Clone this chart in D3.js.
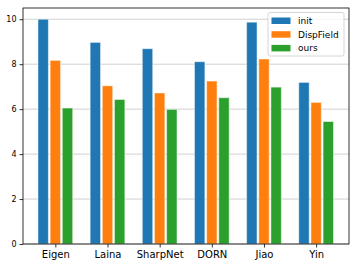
<!DOCTYPE html>
<html>
<head>
<meta charset="utf-8">
<script src="https://cdn.jsdelivr.net/npm/d3@7"></script>
<style>
  body { margin: 0; background: #fff; }
  text { font-family: "DejaVu Sans", sans-serif; }
</style>
</head>
<body>
<svg width="357" height="268"></svg>
<script>
// chart data
var methods = ['Eigen', 'Laina', 'SharpNet', 'DORN', 'Jiao', 'Yin'];
var series = ['init', 'DispField', 'ours'];
var initVals = [10.0, 8.97, 8.69, 8.11, 9.87, 7.19];
var dispVals = [8.17, 7.04, 6.72, 7.25, 8.23, 6.30];
var oursVals = [6.05, 6.43, 5.99, 6.51, 6.98, 5.45];
var yTicks = [0, 2, 4, 6, 8, 10];

var colors = ['#1f77b4', '#ff7f0e', '#2ca02c'];
var allVals = [initVals, dispVals, oursVals];

var plotLeft = 23, plotRight = 349, plotTop = 8, plotBottom = 244;
var barW = 0.2, step = 0.233;

var xScale = d3.scaleLinear()
              .domain([-0.62, 5.63])
              .range([plotLeft, plotRight]);

var yScale = d3.scaleLinear()
              .domain([0, 10.5])
              .range([plotBottom, plotTop]);

var svg = d3.select('svg');

// horizontal grid
svg.append('g')
  .selectAll('line')
  .data(yTicks)
  .enter()
  .append('line')
    .attr('x1', plotLeft)
    .attr('x2', plotRight)
    .attr('y1', d => yScale(d))
    .attr('y2', d => yScale(d))
    .attr('stroke', '#b0b0b0')
    .attr('stroke-opacity', 0.6)
    .attr('stroke-width', 1);

// bars
series.forEach(function(s, k) {
  svg.append('g')
    .selectAll('rect')
    .data(allVals[k])
    .enter()
    .append('rect')
      .attr('x', (d, i) => xScale(i + (k - 1) * step - barW / 2))
      .attr('width', xScale(barW) - xScale(0))
      .attr('y', d => yScale(d))
      .attr('height', d => yScale(0) - yScale(d))
      .attr('fill', colors[k])
      .attr('stroke', '#ffffff')
      .attr('stroke-opacity', 0.5)
      .attr('stroke-width', 1);
});

var yAxis = d3.axisLeft(yScale)
              .tickValues(yTicks)
              .tickSize(3.5)
              .tickPadding(3)
              .tickSizeOuter(0);

var xAxis = d3.axisBottom(xScale)
              .tickValues(d3.range(methods.length))
              .tickFormat(i => methods[i])
              .tickSize(3.5)
              .tickPadding(3)
              .tickSizeOuter(0);

var gy = svg.append('g')
  .attr('transform', 'translate(' + plotLeft + ',0)')
  .call(yAxis);

var gx = svg.append('g')
  .attr('transform', 'translate(0,' + plotBottom + ')')
  .call(xAxis);

gy.select('.domain').remove();
gx.select('.domain').remove();
gy.selectAll('text').style('font-size', '8px').attr('fill', '#000');
gx.selectAll('text').style('font-size', '10px').attr('fill', '#000');
svg.selectAll('.tick line').attr('stroke', '#000').attr('stroke-width', 0.8);

// frame
svg.append('rect')
  .attr('x', plotLeft)
  .attr('y', plotTop)
  .attr('width', plotRight - plotLeft)
  .attr('height', plotBottom - plotTop)
  .attr('fill', 'none')
  .attr('stroke', '#000')
  .attr('stroke-width', 0.8);

// legend
var legend = svg.append('g')
  .attr('transform', 'translate(268,12.5)');

legend.append('rect')
  .attr('width', 76)
  .attr('height', 43.5)
  .attr('rx', 2)
  .attr('fill', '#fff')
  .attr('fill-opacity', 0.8)
  .attr('stroke', '#cccccc')
  .attr('stroke-width', 0.8);

series.forEach(function(s, k) {
  legend.append('rect')
    .attr('x', 3.5)
    .attr('y', 5 + k * 13.7)
    .attr('width', 19)
    .attr('height', 6.5)
    .attr('fill', colors[k]);
  legend.append('text')
    .attr('x', 30)
    .attr('y', 8.3 + k * 13.7)
    .attr('dy', '0.35em')
    .style('font-size', '9px')
    .text(s);
});
</script>
</body>
</html>
